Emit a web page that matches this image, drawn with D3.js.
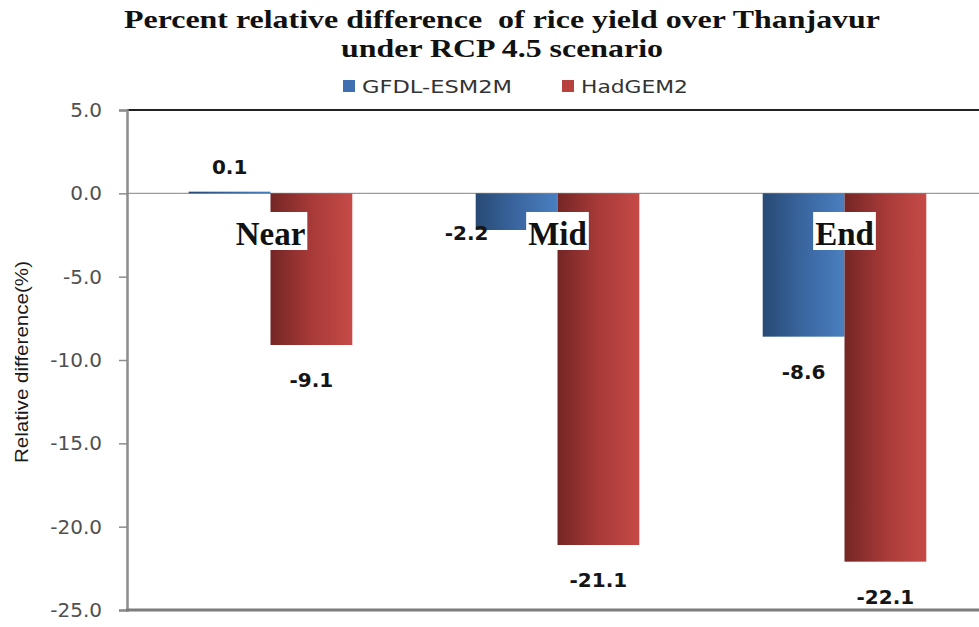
<!DOCTYPE html>
<html>
<head>
<meta charset="utf-8">
<script src="https://cdn.jsdelivr.net/npm/d3@7"></script>
<style>
  body { margin: 0; background: #fff; }
  svg { display: block; }
</style>
</head>
<body>
<div id="chart"></div>
<script>
// data
var periods = ["Near", "Mid", "End"];
var models = ["GFDL-ESM2M", "HadGEM2"];
var gfdlValues = [0.1, -2.2, -8.6];
var hadgemValues = [-9.1, -21.1, -22.1];
var yTicks = [5, 0, -5, -10, -15, -20, -25];
var titleLines = ["Percent relative difference  of rice yield over Thanjavur", "under RCP 4.5 scenario"];
var yTitle = "Relative difference(%)";

var w = 979, h = 627;
// plot box, the right side runs off the picture
var plotLeft = 127, plotRight = 988, plotTop = 110, plotBottom = 610;

var svg = d3.select("#chart").append("svg")
    .attr("width", w)
    .attr("height", h);

// gradients like the office "shaded" bars
var defs = svg.append("defs");
var grads = [
    { id: "gBlue", stops: ["#284a74", "#3a66a0", "#4a7fc0"] },
    { id: "gRed", stops: ["#742625", "#a73a38", "#c64a47"] }
];
grads.forEach(g => {
    var lg = defs.append("linearGradient").attr("id", g.id)
        .attr("x1", "0%").attr("x2", "100%").attr("y1", "0%").attr("y2", "0%");
    g.stops.forEach((c, i) => lg.append("stop").attr("offset", (i * 50) + "%").attr("stop-color", c));
});
var fills = ["url(#gBlue)", "url(#gRed)"];
var legendColors = ["#3f6fb0", "#b8403d"];

var x = d3.scaleBand().domain(periods).range([plotLeft, plotRight]).paddingInner(0.43).paddingOuter(0.215);
var xs = d3.scaleBand().domain(models).range([0, x.bandwidth()]);
var y = d3.scaleLinear().domain([-25, 5]).range([plotBottom, plotTop]);

var rows = periods.map((p, i) => ({ period: p, values: [gfdlValues[i], hadgemValues[i]] }));

// title
svg.append("g").selectAll("text")
    .data(titleLines)
    .enter().append("text")
    .attr("x", 502)
    .attr("y", (d, i) => 28 + i * 29)
    .attr("text-anchor", "middle")
    .attr("textLength", (d, i) => i === 0 ? 756 : 322)
    .attr("lengthAdjust", "spacingAndGlyphs")
    .style("white-space", "pre")
    .style("font-family", "'Liberation Serif', 'Times New Roman', serif")
    .style("font-weight", "bold")
    .style("font-size", "25px")
    .style("fill", "#111")
    .text(d => d);

// legend
var legendX = [343, 562];
var legendW = [150, 107];
var lg = svg.append("g");
lg.selectAll("rect").data(models).enter().append("rect")
    .attr("x", (d, i) => legendX[i]).attr("y", 80)
    .attr("width", 12).attr("height", 12)
    .style("fill", (d, i) => legendColors[i]);
lg.selectAll("text").data(models).enter().append("text")
    .attr("x", (d, i) => legendX[i] + 19).attr("y", 93)
    .attr("textLength", (d, i) => legendW[i])
    .attr("lengthAdjust", "spacingAndGlyphs")
    .style("font-family", "'DejaVu Sans', Verdana, sans-serif")
    .style("font-size", "17px")
    .style("fill", "#333")
    .text(d => d);

// frame: top border and zero line
svg.append("line").attr("x1", plotLeft).attr("x2", w).attr("y1", plotTop).attr("y2", plotTop)
    .style("stroke", "#222").style("stroke-width", 2);
svg.append("line").attr("x1", plotLeft).attr("x2", w).attr("y1", y(0)).attr("y2", y(0))
    .style("stroke", "#9a9a9a").style("stroke-width", 1.2);

// bars
var groups = svg.append("g").selectAll("g")
    .data(rows).enter().append("g")
    .attr("transform", d => "translate(" + x(d.period) + ",0)");

groups.selectAll("rect")
    .data(d => d.values.map((v, i) => ({ model: models[i], v: v, i: i })))
    .enter().append("rect")
    .attr("x", d => xs(d.model))
    .attr("y", d => y(Math.max(0, d.v)))
    .attr("width", xs.bandwidth())
    .attr("height", d => Math.abs(y(d.v) - y(0)))
    .style("fill", d => fills[d.i]);

// y axis
var yAxis = svg.append("g")
    .attr("transform", "translate(" + plotLeft + ",0)")
    .call(d3.axisLeft(y).tickValues(yTicks).tickSize(8).tickPadding(17).tickFormat(d => d.toFixed(1)));
yAxis.select(".domain").style("stroke", "#8c8c8c").style("stroke-width", 2.5);
yAxis.selectAll(".tick line").style("stroke", "#8c8c8c").style("stroke-width", 1.5);
yAxis.selectAll(".tick text")
    .style("font-family", "'DejaVu Sans', Verdana, sans-serif")
    .style("font-size", "20px")
    .style("fill", "#505050");

// bottom axis line
svg.append("line").attr("x1", plotLeft - 1).attr("x2", w).attr("y1", plotBottom).attr("y2", plotBottom)
    .style("stroke", "#7c7c7c").style("stroke-width", 3);

// y title
svg.append("text")
    .attr("transform", "translate(28," + 362 + ") rotate(-90)")
    .attr("text-anchor", "middle")
    .attr("textLength", 202)
    .attr("lengthAdjust", "spacingAndGlyphs")
    .style("font-family", "'Liberation Sans', Arial, sans-serif")
    .style("font-size", "19px")
    .style("fill", "#1a1a1a")
    .text(yTitle);

// category labels with white boxes, sitting inside the plot
periods.forEach(p => {
    var g = svg.append("g");
    var t = g.append("text")
        .attr("x", x(p) + x.bandwidth() / 2)
        .attr("y", 245)
        .attr("text-anchor", "middle")
        .style("font-family", "'Liberation Serif', 'Times New Roman', serif")
        .style("font-weight", "bold")
        .style("font-size", "33px")
        .style("fill", "#111")
        .text(p);
    var bb = t.node().getBBox();
    g.insert("rect", "text")
        .attr("x", bb.x - 2).attr("y", 212)
        .attr("width", bb.width + 4).attr("height", 38)
        .style("fill", "#fff");
});

// value labels (the -2.2 one was dragged left in the original)
var nudge = { "GFDL-ESM2M|Mid": [-50, -32] };
rows.forEach(r => {
    r.values.forEach((v, i) => {
        var key = models[i] + "|" + r.period;
        var off = nudge[key] || [0, 0];
        svg.append("text")
            .attr("x", x(r.period) + xs(models[i]) + xs.bandwidth() / 2 + off[0])
            .attr("y", (v >= 0 ? y(v) - 18 : y(v) + 42) + off[1])
            .attr("text-anchor", "middle")
            .style("font-family", "'DejaVu Sans', Verdana, sans-serif")
            .style("font-weight", "bold")
            .style("font-size", "20px")
            .style("fill", "#151515")
            .text(v.toFixed(1));
    });
});
</script>
</body>
</html>
